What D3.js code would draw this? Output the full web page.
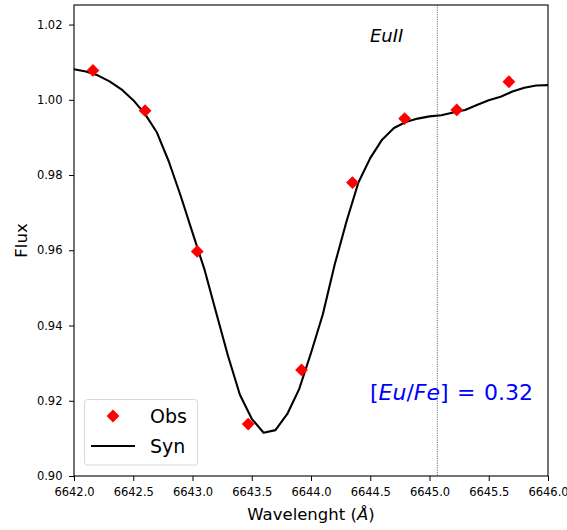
<!DOCTYPE html>
<html>
<head>
<meta charset="utf-8">
<script src="https://cdn.jsdelivr.net/npm/d3@7"></script>
<style>
  html, body { margin: 0; padding: 0; background: #fff; }
  svg { display: block; font-family: "DejaVu Sans", sans-serif; }
</style>
</head>
<body>
<svg id="chart" width="567" height="530"></svg>
<script>
// Observed spectrum points (wavelength in Å, normalized flux)
const obsWave = [6642.16, 6642.60, 6643.04, 6643.47, 6643.92, 6644.35, 6644.79, 6645.23, 6645.67];
const obsFlux = [1.0078, 0.9971, 0.9597, 0.9138, 0.9282, 0.9780, 0.9950, 0.9973, 1.0048];

// Synthetic spectrum, sampled every 0.1 Å from 6642.0 to 6646.0
const synWave = [6642.0, 6642.1, 6642.2, 6642.3, 6642.4, 6642.5, 6642.6, 6642.7, 6642.8, 6642.9,
                 6643.0, 6643.1, 6643.2, 6643.3, 6643.4, 6643.5, 6643.6, 6643.7, 6643.8, 6643.9,
                 6644.0, 6644.1, 6644.2, 6644.3, 6644.4, 6644.5, 6644.6, 6644.7, 6644.8, 6644.9,
                 6645.0, 6645.1, 6645.2, 6645.3, 6645.4, 6645.5, 6645.6, 6645.7, 6645.8, 6645.9,
                 6646.0];
const synFlux = [1.0081, 1.0075, 1.0065, 1.0049, 1.0028, 0.9999, 0.9962, 0.9913, 0.9836, 0.9745,
                 0.9647, 0.9550, 0.9434, 0.9319, 0.9216, 0.9152, 0.9115, 0.9122, 0.9165, 0.9231,
                 0.9327, 0.9430, 0.9562, 0.9677, 0.9780, 0.9845, 0.9894, 0.9925, 0.9941, 0.9950,
                 0.9956, 0.9959, 0.9966, 0.9973, 0.9986, 0.9999, 1.0008, 1.0022, 1.0032, 1.0038,
                 1.0039];

// Line centre marker
const lineCentre = [6645.066];

// Axis ticks
const xTicks = [6642.0, 6642.5, 6643.0, 6643.5, 6644.0, 6644.5, 6645.0, 6645.5, 6646.0];
const yTicks = [0.90, 0.92, 0.94, 0.96, 0.98, 1.00, 1.02];
const xDomain = [6642.0, 6646.0];
const yDomain = [0.90, 1.0252];

const svg = d3.select("#chart");
const plot = { left: 74, top: 5, right: 548, bottom: 476 };

const x = d3.scaleLinear().domain(xDomain).range([plot.left, plot.right]);
const y = d3.scaleLinear().domain(yDomain).range([plot.bottom, plot.top]);

// Dotted vertical line at the line centre
svg.selectAll("line.centre").data(lineCentre).enter().append("line")
  .attr("class", "centre")
  .attr("x1", d => x(d)).attr("x2", d => x(d))
  .attr("y1", plot.top).attr("y2", plot.bottom)
  .attr("stroke", "#444").attr("stroke-width", 0.9)
  .attr("stroke-dasharray", "1,1.3");

// Synthetic spectrum
const synData = synWave.map((w, i) => [w, synFlux[i]]);
svg.append("path")
  .datum(synData)
  .attr("fill", "none")
  .attr("stroke", "#000")
  .attr("stroke-width", 2.1)
  .attr("stroke-linejoin", "round")
  .attr("d", d3.line().x(d => x(d[0])).y(d => y(d[1])));

// Observed points as diamonds
const diamond = d3.symbol().type(d3.symbolSquare).size(82);
const obsData = obsWave.map((w, i) => [w, obsFlux[i]]);
svg.selectAll("path.obs").data(obsData).enter().append("path")
  .attr("class", "obs")
  .attr("d", diamond)
  .attr("fill", "#ff0000")
  .attr("transform", d => `translate(${x(d[0])},${y(d[1])}) rotate(45)`);

// Axes
const xAxis = d3.axisBottom(x).tickValues(xTicks).tickFormat(d3.format(".1f")).tickSize(5).tickPadding(7);
const yAxis = d3.axisLeft(y).tickValues(yTicks).tickFormat(d3.format(".2f")).tickSize(5).tickPadding(6.5);

const gx = svg.append("g").attr("transform", `translate(0,${plot.bottom})`).call(xAxis);
const gy = svg.append("g").attr("transform", `translate(${plot.left},0)`).call(yAxis);
[gx, gy].forEach(g => {
  g.select(".domain").remove();
  g.selectAll(".tick line").attr("stroke", "#000").attr("stroke-width", 1);
  g.selectAll(".tick text").attr("fill", "#000").style("font-size", "11.5px")
    .style("font-family", "'DejaVu Sans', sans-serif");
});

// Frame
svg.append("rect")
  .attr("x", plot.left).attr("y", plot.top)
  .attr("width", plot.right - plot.left).attr("height", plot.bottom - plot.top)
  .attr("fill", "none").attr("stroke", "#000").attr("stroke-width", 1.1);

// Axis labels
const xl = svg.append("text")
  .attr("x", (plot.left + plot.right) / 2).attr("y", 520)
  .attr("text-anchor", "middle").style("font-size", "16.5px").attr("fill", "#000");
xl.append("tspan").text("Wavelenght (");
xl.append("tspan").attr("font-style", "italic").text("Å");
xl.append("tspan").text(")");

svg.append("text")
  .attr("transform", `translate(27,${(plot.top + plot.bottom) / 2}) rotate(-90)`)
  .attr("text-anchor", "middle").style("font-size", "16.5px").attr("fill", "#000")
  .text("Flux");

// Species annotation
svg.append("text")
  .attr("x", 370).attr("y", 42)
  .attr("font-style", "italic").style("font-size", "18px").attr("fill", "#000")
  .text("EuII");

// Abundance annotation, math-style spacing around "="
const ab = svg.append("text")
  .attr("y", 400)
  .style("font-size", "22px").attr("fill", "#0000ff");
ab.append("tspan").attr("x", 370).text("[");
ab.append("tspan").attr("font-style", "italic").text("Eu");
ab.append("tspan").text("/");
ab.append("tspan").attr("font-style", "italic").text("Fe");
ab.append("tspan").text("]");
ab.append("tspan").attr("x", 457).text("=");
ab.append("tspan").attr("x", 484).text("0.32");

// Legend
const lg = svg.append("g");
lg.append("rect")
  .attr("x", 84.5).attr("y", 399.5).attr("width", 113).attr("height", 65.5)
  .attr("rx", 3).attr("fill", "#fff").attr("fill-opacity", 0.8)
  .attr("stroke", "#d8d8d8").attr("stroke-width", 1);
lg.append("path")
  .attr("d", diamond)
  .attr("fill", "#ff0000")
  .attr("transform", "translate(113,416) rotate(45)");
lg.append("line")
  .attr("x1", 91).attr("x2", 135).attr("y1", 446).attr("y2", 446)
  .attr("stroke", "#000").attr("stroke-width", 2.1);
lg.append("text").attr("x", 150).attr("y", 423).style("font-size", "19px").attr("fill", "#000").text("Obs");
lg.append("text").attr("x", 150).attr("y", 453).style("font-size", "19px").attr("fill", "#000").text("Syn");
</script>
</body>
</html>
